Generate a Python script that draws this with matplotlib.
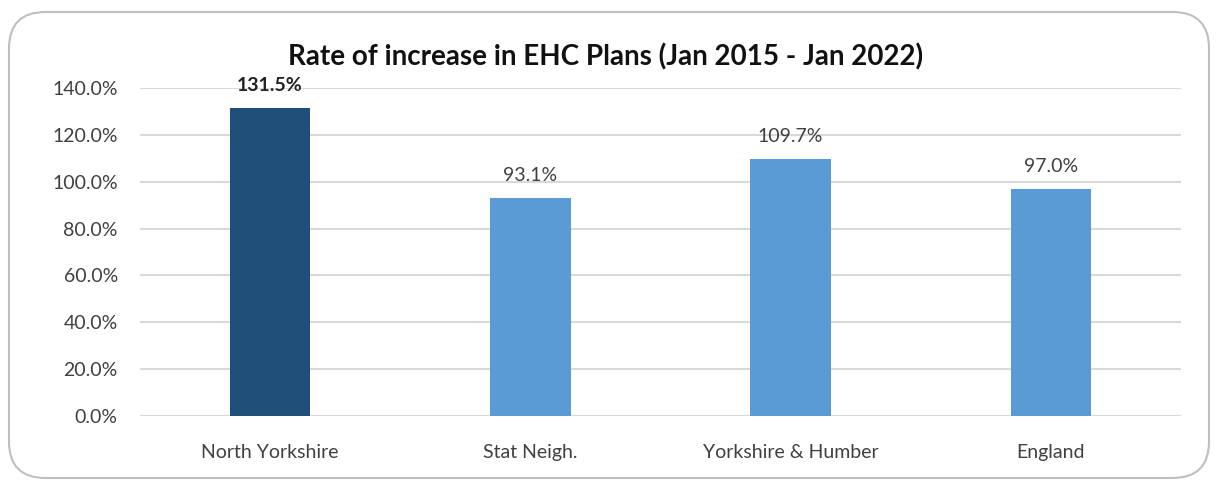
import matplotlib.pyplot as plt
from matplotlib.patches import FancyBboxPatch
from matplotlib.ticker import FuncFormatter

categories = ["North Yorkshire", "Stat Neigh.", "Yorkshire & Humber", "England"]
values = [131.5, 93.1, 109.7, 97.0]
bar_colors = ["#1F4E79", "#5B9BD5", "#5B9BD5", "#5B9BD5"]
label_weights = ["bold", "normal", "normal", "normal"]
y_ticks = [0, 20, 40, 60, 80, 100, 120, 140]

plt.rcParams['font.family'] = ['Lato', 'DejaVu Sans']

fig = plt.figure(figsize=(12.16, 4.86), dpi=100)
ax = fig.add_axes([140 / 1216, 1 - 416 / 486, 1041 / 1216, 328 / 486])

# rounded frame round the whole chart
frame = FancyBboxPatch((9 / 1216, 8 / 486), 1200 / 1216, 466 / 486,
                       boxstyle="round,pad=0,rounding_size=0.03",
                       transform=fig.transFigure, facecolor="none",
                       edgecolor="#bfbfbf", linewidth=1.5, mutation_aspect=2.5)
fig.patches.append(frame)

x = range(len(categories))
bars = ax.bar(x, values, width=0.31, color=bar_colors, zorder=3)

for b, v, w in zip(bars, values, label_weights):
    ax.annotate(f"{v:.1f}%", (b.get_x() + b.get_width() / 2, v),
                xytext=(0, 10), textcoords="offset points",
                ha="center", va="bottom", fontsize=14, fontweight=w,
                color="#222222" if w == "bold" else "#404040")

ax.set_xlim(-0.5, 3.5)
ax.set_ylim(0, 140)
ax.set_yticks(y_ticks)
ax.yaxis.set_major_formatter(FuncFormatter(lambda v, p: f"{v:.1f}%"))
ax.set_xticks(list(x))
ax.set_xticklabels(categories)
ax.tick_params(axis="both", length=0, labelsize=14, labelcolor="#404040")
ax.tick_params(axis="x", pad=20)
ax.tick_params(axis="y", pad=16)
ax.grid(axis="y", color="#d9d9d9", linewidth=1.5, zorder=0)
for s in ax.spines.values():
    s.set_visible(False)

fig.text(606 / 1216, 1 - 57 / 486, "Rate of increase in EHC Plans (Jan 2015 - Jan 2022)",
         ha="center", va="center", fontsize=20, fontweight="bold", color="#111111")

fig.savefig("out.png", dpi=100)
